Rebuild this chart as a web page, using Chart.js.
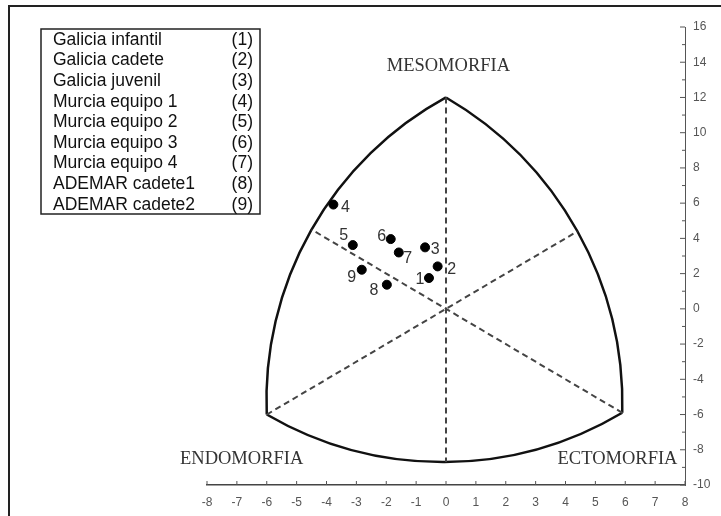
<!DOCTYPE html>
<html>
<head>
<meta charset="utf-8">
<script src="https://cdn.jsdelivr.net/npm/chart.js@4/dist/chart.umd.min.js"></script>
<style>
  html, body { margin: 0; padding: 0; background: #fff; }
  #wrap { position: relative; width: 721px; height: 516px; }
</style>
</head>
<body>
<div id="wrap"><canvas id="somatocarta" width="721" height="516"></canvas></div>
<script>
// equipos y sus codigos
const teamNames = ['Galicia infantil', 'Galicia cadete', 'Galicia juvenil', 'Murcia equipo 1', 'Murcia equipo 2',
  'Murcia equipo 3', 'Murcia equipo 4', 'ADEMAR cadete1', 'ADEMAR cadete2'];
const teamCodes = ['1', '2', '3', '4', '5', '6', '7', '8', '9'];

// coordenadas X / Y del somatotipo medio de cada equipo
const pointX = [-0.57, -0.28, -0.70, -3.77, -3.12, -1.85, -1.58, -1.98, -2.82];
const pointY = [1.75, 2.41, 3.49, 5.92, 3.62, 3.96, 3.20, 1.37, 2.22];

// vertices de la somatocarta (meso, endo, ecto)
const vertexNames = ['MESOMORFIA', 'ENDOMORFIA', 'ECTOMORFIA'];
const vertexX = [0, -6, 5.9];
const vertexY = [12, -6, -5.9];
// punto medio de cada arco, opuesto a cada vertice (bajo, derecha, izquierda)
const arcMidX = [0, 4.4, -4.5];
const arcMidY = [-8.7, 4.4, 4.5];

// ejes
const xMin = -8, xMax = 8;
const yMin = -10, yMax = 16;

const points = pointX.map((x, i) => ({ x: x, y: pointY[i] }));

// lineas discontinuas: de cada vertice hasta el arco opuesto
const dashedSets = vertexX.map((vx, i) => ({
  type: 'line',
  data: [{ x: vx, y: vertexY[i] }, { x: arcMidX[i], y: arcMidY[i] }],
  borderColor: '#444',
  borderWidth: 2,
  borderDash: [6, 4],
  pointRadius: 0,
  fill: false
}));

function arcThrough(ctx, p1, p2, p3) {
  const d = 2 * (p1.x * (p2.y - p3.y) + p2.x * (p3.y - p1.y) + p3.x * (p1.y - p2.y));
  const s1 = p1.x * p1.x + p1.y * p1.y, s2 = p2.x * p2.x + p2.y * p2.y, s3 = p3.x * p3.x + p3.y * p3.y;
  const cx = (s1 * (p2.y - p3.y) + s2 * (p3.y - p1.y) + s3 * (p1.y - p2.y)) / d;
  const cy = (s1 * (p3.x - p2.x) + s2 * (p1.x - p3.x) + s3 * (p2.x - p1.x)) / d;
  const r = Math.hypot(p1.x - cx, p1.y - cy);
  const a1 = Math.atan2(p1.y - cy, p1.x - cx);
  const a2 = Math.atan2(p2.y - cy, p2.x - cx);
  const a3 = Math.atan2(p3.y - cy, p3.x - cx);
  const norm = a => ((a % (2 * Math.PI)) + 2 * Math.PI) % (2 * Math.PI);
  const cw = norm(a2 - a1) < norm(a3 - a1);
  ctx.beginPath();
  ctx.arc(cx, cy, r, a1, a3, !cw);
  ctx.stroke();
}

const somatoPlugin = {
  id: 'somato',
  beforeDatasetsDraw(chart) {
    const ctx = chart.ctx, xs = chart.scales.x, ys = chart.scales.y;
    const px = (x, y) => ({ x: xs.getPixelForValue(x), y: ys.getPixelForValue(y) });
    const V = vertexX.map((x, i) => px(x, vertexY[i]));
    const M = arcMidX.map((x, i) => px(x, arcMidY[i]));
    ctx.save();
    // marco exterior
    ctx.strokeStyle = '#222';
    ctx.lineWidth = 2;
    ctx.beginPath();
    ctx.moveTo(9, 516);
    ctx.lineTo(9, 6);
    ctx.lineTo(721, 6);
    ctx.stroke();
    // arcos
    ctx.strokeStyle = '#111';
    ctx.lineWidth = 2.5;
    arcThrough(ctx, V[1], M[0], V[2]);
    arcThrough(ctx, V[0], M[1], V[2]);
    arcThrough(ctx, V[0], M[2], V[1]);
    // marcas de los ejes hacia dentro
    ctx.strokeStyle = '#555';
    ctx.lineWidth = 1;
    ctx.beginPath();
    for (let v = xMin; v <= xMax; v++) {
      const x = xs.getPixelForValue(v);
      ctx.moveTo(x, xs.top);
      ctx.lineTo(x, xs.top - 4);
    }
    for (let v = yMin; v <= yMax; v++) {
      const y = ys.getPixelForValue(v);
      ctx.moveTo(ys.left, y);
      ctx.lineTo(ys.left - (v % 2 === 0 ? 5 : 3), y);
    }
    ctx.stroke();
    // nombres de los vertices
    ctx.fillStyle = '#333';
    ctx.font = '18.5px "Liberation Serif", "DejaVu Serif", serif';
    ctx.textAlign = 'center';
    ctx.textBaseline = 'middle';
    const labelAt = [[0.08, 13.8], [-6.84, -8.52], [5.74, -8.52]];
    vertexNames.forEach((n, i) => {
      const p = px(labelAt[i][0], labelAt[i][1]);
      ctx.fillText(n, p.x, p.y);
    });
    ctx.restore();
  },
  afterDraw(chart) {
    const ctx = chart.ctx, xs = chart.scales.x, ys = chart.scales.y;
    ctx.save();
    // numero junto a cada punto
    const off = [[-9, 2], [14, 3], [10, 2], [12, 3], [-9, -9], [-9, -2], [9, 6], [-13, 6], [-10, 8]];
    ctx.fillStyle = '#333';
    ctx.font = '16px "Liberation Sans", Arial, sans-serif';
    ctx.textAlign = 'center';
    ctx.textBaseline = 'middle';
    points.forEach((p, i) => {
      ctx.fillText(teamCodes[i], xs.getPixelForValue(p.x) + off[i][0], ys.getPixelForValue(p.y) + off[i][1]);
    });
    // leyenda
    ctx.strokeStyle = '#222';
    ctx.lineWidth = 1.5;
    ctx.strokeRect(41, 29, 219, 185);
    ctx.fillStyle = '#111';
    ctx.font = '17.5px "Liberation Sans", Arial, sans-serif';
    teamNames.forEach((n, i) => {
      const y = 40 + i * 20.6;
      ctx.textAlign = 'left';
      ctx.fillText(n, 53, y);
      ctx.textAlign = 'right';
      ctx.fillText('(' + teamCodes[i] + ')', 253, y);
    });
    ctx.restore();
  }
};

new Chart(document.getElementById('somatocarta').getContext('2d'), {
  type: 'scatter',
  data: {
    datasets: [{
      label: 'Equipos',
      data: points,
      backgroundColor: '#000',
      borderColor: '#000',
      pointRadius: 4.5,
      pointHoverRadius: 4.5
    }].concat(dashedSets)
  },
  options: {
    responsive: false,
    animation: false,
    devicePixelRatio: 1,
    layout: { padding: { left: 207, top: 27, right: 0, bottom: 0 } },
    plugins: {
      legend: { display: false },
      tooltip: { enabled: false }
    },
    scales: {
      x: {
        type: 'linear',
        position: 'bottom',
        min: xMin,
        max: xMax,
        afterFit: s => { s.height = 31; },
        border: { color: '#444', width: 1.5 },
        grid: { drawOnChartArea: false, drawTicks: false },
        ticks: {
          stepSize: 1,
          autoSkip: false,
          maxRotation: 0,
          padding: 10,
          color: '#555',
          font: { family: '"Liberation Sans", Arial, sans-serif', size: 12 }
        }
      },
      y: {
        type: 'linear',
        position: 'right',
        min: yMin,
        max: yMax,
        afterFit: s => { s.width = 36; },
        border: { color: '#555', width: 1 },
        grid: { drawOnChartArea: false, drawTicks: false },
        ticks: {
          stepSize: 1,
          autoSkip: false,
          padding: 8,
          color: '#555',
          font: { family: '"Liberation Sans", Arial, sans-serif', size: 12 },
          callback: v => (v % 2 === 0 ? v : '')
        }
      }
    }
  },
  plugins: [somatoPlugin]
});
</script>
</body>
</html>
